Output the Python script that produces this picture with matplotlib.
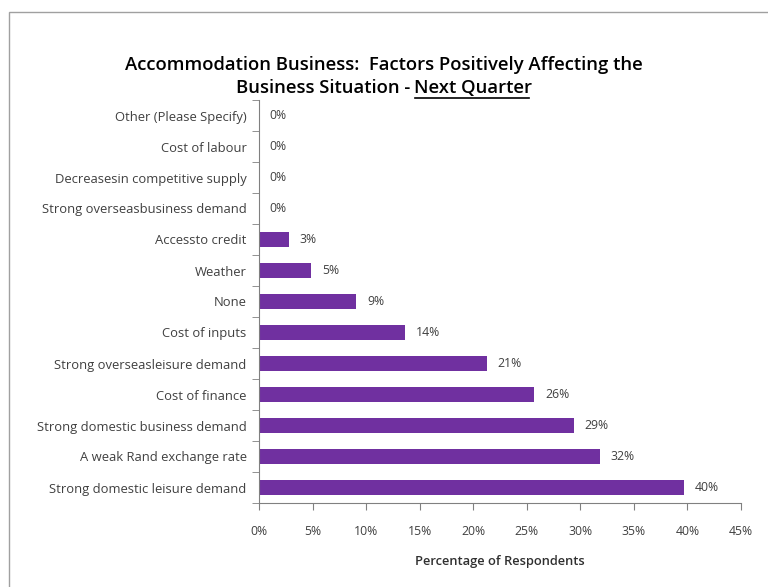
import matplotlib
matplotlib.use('Agg')
import matplotlib.pyplot as plt
from matplotlib.patches import Rectangle

plt.rcParams['font.family'] = ['Open Sans', 'DejaVu Sans']

# ==== DATA ====
categories = ['Strong domestic leisure demand', 'A weak Rand exchange rate',
              'Strong domestic business demand', 'Cost of finance',
              'Strong overseasleisure demand', 'Cost of inputs', 'None',
              'Weather', 'Accessto credit', 'Strong overseasbusiness demand',
              'Decreasesin competitive supply', 'Cost of labour',
              'Other (Please Specify)']
values = [39.7, 31.8, 29.4, 25.7, 21.3, 13.6, 9.1, 4.9, 2.8, 0, 0, 0, 0]
labels = ['40%', '32%', '29%', '26%', '21%', '14%', '9%', '5%', '3%',
          '0%', '0%', '0%', '0%']
xticks = [0, 5, 10, 15, 20, 25, 30, 35, 40, 45]

purple = '#7030A0'
txt = '#404040'
fs = 8.8

# ==== PLOT ====
fig = plt.figure(figsize=(7.68, 5.87), dpi=100)
fig.patches.append(Rectangle((9/768, -0.01), 1.0, 1 - 12/587 + 0.01,
                             transform=fig.transFigure, fill=False,
                             edgecolor='#a0a0a0', linewidth=1.0))

ax = fig.add_axes([259/768, 84/587, 482/768, 403/587])
pos = list(range(len(categories)))
ax.barh(pos, values, height=0.5, color=purple)
for p, v, l in zip(pos, values, labels):
  ax.text(v + 1.0, p, l, va='center', ha='left', fontsize=fs, color=txt)

ax.set_xlim(0, 45)
ax.set_ylim(-0.5, len(categories) - 0.5)
ax.set_xticks(xticks)
ax.set_xticklabels([f'{t}%' for t in xticks], fontsize=fs, color=txt)
ax.set_yticks(pos)
ax.set_yticklabels(categories, fontsize=9.4, color=txt)
ax.set_yticks([p - 0.5 for p in pos] + [len(categories) - 0.5], minor=True)
ax.tick_params(axis='y', which='major', length=0, pad=9)
ax.tick_params(axis='y', which='minor', length=5, color='#808080')
ax.tick_params(axis='x', length=5, color='#808080', pad=11)
for s in ['top', 'right']:
  ax.spines[s].set_visible(False)
ax.spines['left'].set_color('#808080')
ax.spines['bottom'].set_color('#808080')
ax.set_xlabel('Percentage of Respondents', fontsize=9.3, fontweight='semibold',
              color='#303030', labelpad=12)

# title, second line partly underlined
tfs = 13.3
fig.text(0.5, 1 - 65/587, 'Accommodation Business:  Factors Positively Affecting the',
         ha='center', va='center', fontsize=tfs, fontweight='semibold', color='black')
r = fig.canvas.get_renderer()
t1 = fig.text(0, 0, 'Business Situation - ', fontsize=tfs, fontweight='semibold')
t2 = fig.text(0, 0, 'Next Quarter', fontsize=tfs, fontweight='semibold')
w1 = t1.get_window_extent(r).width / 768
w2 = t2.get_window_extent(r).width / 768
x0 = 0.5 - (w1 + w2) / 2
y2 = 1 - 88/587
t1.set_position((x0, y2)); t1.set_va('center')
t2.set_position((x0 + w1, y2)); t2.set_va('center')
uy = y2 - 10/587
fig.add_artist(plt.Line2D([x0 + w1, x0 + w1 + w2 - 4/768], [uy, uy],
                          transform=fig.transFigure, color='black', linewidth=1.2))

fig.savefig('out.png', dpi=100)
